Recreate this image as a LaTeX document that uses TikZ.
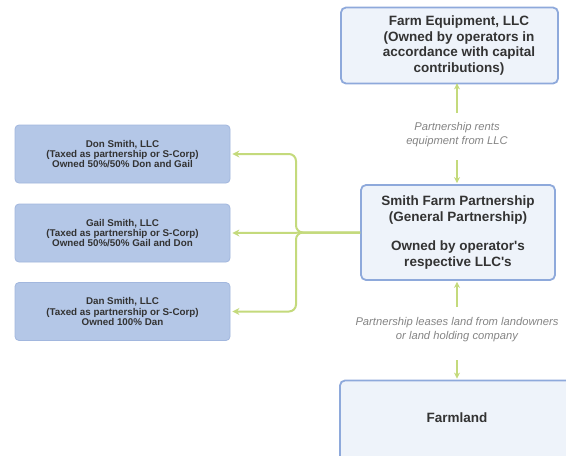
\documentclass[tikz,border=0pt]{standalone}
\usepackage{fontspec}
\setmainfont{Liberation Sans}
\usetikzlibrary{arrows.meta}
\definecolor{rfill}{HTML}{EEF3FA}
\definecolor{rdraw}{HTML}{8EA9DB}
\definecolor{lfill}{HTML}{B4C7E7}
\definecolor{ldraw}{HTML}{A2B7DE}
\definecolor{gr}{HTML}{C4DA7C}
\definecolor{txt}{HTML}{333333}
\definecolor{lbl}{HTML}{858585}
\tikzset{
  rbox/.style={draw=rdraw, line width=1.8pt, fill=rfill, rounded corners=5pt, inner sep=0pt},
  lbox/.style={draw=ldraw, line width=0.8pt, fill=lfill, rounded corners=4pt, minimum width=215pt, minimum height=58pt, inner sep=0pt,
    align=center, text=txt, font=\fontsize{9.8}{10.2}\selectfont\bfseries},
  rtext/.style={align=center, text=txt, font=\fontsize{13.5}{15.5}\selectfont\bfseries},
  ltext/.style={align=center, text=lbl, font=\fontsize{11.2}{14}\selectfont\itshape},
  garrow/.style={draw=gr, line width=1.6pt, -{Stealth[length=6pt,width=6pt]}},
  gline/.style={draw=gr, line width=2pt, -{Stealth[length=7pt,width=7pt]}, rounded corners=7pt}
}
\begin{document}
\begin{tikzpicture}[x=1pt,y=-1pt]
\useasboundingbox (0,0) rectangle (566,456);
\clip (0,0) rectangle (566,456);
\fill[white] (0,0) rectangle (566,456);
% right boxes
\node[rbox, minimum width=217pt, minimum height=76pt] (equip) at (449.5,45.5) {};
\node[rtext] (equipt) at (459,45.5) {Farm Equipment, LLC\\(Owned by operators in\\accordance with capital\\contributions)};
\node[rbox, minimum width=194pt, minimum height=95pt, rtext] (part) at (458,232.5) {Smith Farm Partnership\\(General Partnership)\\[14pt]Owned by operator\textquotesingle s\\respective LLC\textquotesingle s};
\node[rbox, minimum width=240pt, minimum height=95pt] (land) at (460,428) {};
\node[rtext] (landt) at (457,418) {Farmland};
% left boxes
\node[lbox] (don) at (122.5,154) {Don Smith, LLC\\(Taxed as partnership or S-Corp)\\Owned 50\%/50\% Don and Gail};
\node[lbox] (gail) at (122.5,233) {Gail Smith, LLC\\(Taxed as partnership or S-Corp)\\Owned 50\%/50\% Gail and Don};
\node[lbox] (dan) at (122.5,311.5) {Dan Smith, LLC\\(Taxed as partnership or S-Corp)\\Owned 100\% Dan};
% labels
\node[ltext] (lbl1) at (457,135) {Partnership rents\\equipment from LLC};
\node[ltext] (lbl2) at (457,330) {Partnership leases land from landowners\\or land holding company};
% vertical arrows
\coordinate (a1) at (457,113);
\coordinate (a2) at (457,160);
\coordinate (b1) at (457,307);
\coordinate (b2) at (457,360);
\draw[garrow] (a1) -- (a1 |- equip.south) -- ++(0,-1);
\draw[garrow, shorten >=1pt] (a2) -- (a2 |- part.north);
\draw[garrow, shorten >=1pt] (b1) -- (b1 |- part.south);
\draw[garrow, shorten >=1pt] (b2) -- (b2 |- land.north);
% bracket
\coordinate (j) at (296,232.5);
\draw[gline, shorten >=2pt] (part.west) -- (j) |- (don.east);
\draw[gline, shorten >=2pt] (part.west) -- (j) |- (dan.east);
\draw[gline, shorten >=2pt] (part.west) -- (gail.east);
\end{tikzpicture}
\end{document}
